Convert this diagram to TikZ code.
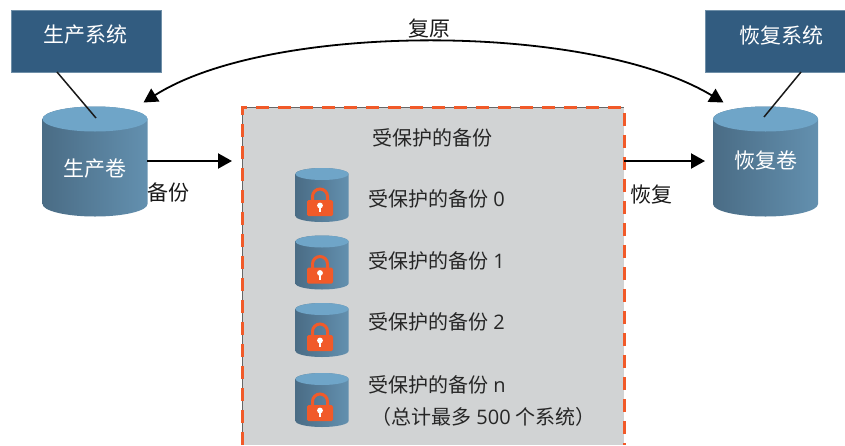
\documentclass[tikz,border=0pt]{standalone}
\usepackage{fontspec}
\setmainfont{Noto Sans CJK SC}
\newfontfamily\lat{Open Sans}
\usetikzlibrary{arrows.meta}
\definecolor{boxblue}{HTML}{325C80}
\definecolor{boxedge}{HTML}{6F8FA8}
\definecolor{cylL}{HTML}{4A6C85}
\definecolor{cylR}{HTML}{6390AF}
\definecolor{cylTop}{HTML}{6FA5C8}
\definecolor{panelgrey}{HTML}{D1D3D4}
\definecolor{lockorange}{HTML}{F15A29}
\tikzset{
  sysbox/.style={draw=boxedge,line width=0.7pt,fill=boxblue,text=white,anchor=north west,inner sep=0pt},
  whitelabel/.style={text=white,font=\fontsize{21}{25}\selectfont,inner sep=0pt},
  blacklabel/.style={text=black!90,font=\fontsize{21}{25}\selectfont,inner sep=0pt},
  panellabel/.style={text=black!85,font=\fontsize{20}{24}\selectfont,inner sep=0pt,anchor=west},
  conn/.style={line width=1.5pt,black!90},
  flow/.style={line width=2.1pt,black,-{Triangle[length=14pt,width=15pt]}},
  cylnode/.style={inner sep=0pt,minimum width=0pt},
  pics/cyl/.style args={#1/#2/#3}{code={
    \path[left color=cylL,right color=cylR,draw=none]
      (-#1,-#2+#3) -- (-#1,#2-#3) arc[start angle=180,end angle=0,x radius=#1,y radius=#3]
      -- (#1,-#2+#3) arc[start angle=0,end angle=-180,x radius=#1,y radius=#3] -- cycle;
    \path[fill=cylTop] (0,-#2+#3) ellipse[x radius=#1,y radius=#3];
  }},
  pics/lock/.style={code={
    \draw[lockorange,line width=3pt] (-7.5,4) -- (-7.5,-4.5) arc[start angle=180,end angle=360,radius=7.5] -- (7.5,4);
    \path[fill=lockorange,rounded corners=1.5pt] (-13,-1) rectangle (13,15);
    \path[fill=white] (0,4.5) circle[radius=2.9];
    \path[fill=white] (-1.1,5) rectangle (1.1,11);
  }}
}
\begin{document}
\begin{tikzpicture}[x=1pt,y=-1pt]
\useasboundingbox (0,0) rectangle (845,445);
% panel
\path[fill=panelgrey] (242,107) rectangle (624,445);
\draw[gray!80!black,line width=0.8pt] (242,445) -- (242,107) -- (624,107);
\draw[lockorange,line width=3pt,dash pattern=on 13pt off 9pt] (242,445) -- (242,107) -- (624,107) -- (624,445);
\coordinate (panelL) at (232,161);
\coordinate (panelR) at (624,161);
\coordinate (recL) at (705,161);
\coordinate (prodR) at (147,161);
% boxes
\node[sysbox,minimum width=150pt,minimum height=62pt] (prodsys) at (11,10) {};
\node[whitelabel] (prodsystxt) at (85.5,35) {生产系统};
\node[sysbox,minimum width=141pt,minimum height=62pt] (recsys) at (705,10) {};
\node[whitelabel] (recsystxt) at (781,35) {恢复系统};
% big cylinders
\pic at (95,161.5) {cyl={52.5/55/12.5}};
\pic at (765.5,161.5) {cyl={52.5/55/12.5}};
\node[cylnode] (prodvol) at (95,161.5) {};
\node[cylnode] (recvol) at (765.5,161.5) {};
\coordinate (prodtop) at (96,118);
\coordinate (rectop) at (764,117);
\coordinate (prodin) at (143.5,102.5);
\coordinate (recin) at (723.5,102.5);
\coordinate (prodsysfoot) at (57,72);
\coordinate (recsysfoot) at (801,72);
\draw[conn] (prodsysfoot) -- (prodtop);
\draw[conn] (recsysfoot) -- (rectop);
\node[whitelabel] (prodvoltxt) at (95,169) {生产卷};
\node[whitelabel] (recvoltxt) at (765.5,161) {恢复卷};
% flows
\draw[flow] (prodR) -- (panelL);
\draw[flow] (panelR) -- (recL);
\draw[line width=1.8pt,black,{Triangle[length=14pt,width=15pt]}-{Triangle[length=14pt,width=15pt]}]
  (prodin) .. controls (270,22) and (590,22) .. (recin);
\node[blacklabel] (lbackup) at (168,192) {备份};
\node[blacklabel] (lrecover) at (651,195) {恢复};
\node[blacklabel] (lrestore) at (429,29) {复原};
% panel content
\node[text=black!85,font=\fontsize{20}{24}\selectfont,inner sep=0pt] (ptitle) at (432,138) {受保护的备份};
\foreach \n/\cy/\lab/\ly in {0/195/0/199, 1/262.5/1/261, 2/330/2/322, 3/400/n/385}{
  \pic at (322,\cy) {cyl={26.5/27/6}};
  \pic at (320,\cy+6) {lock};
  \node[panellabel] (item\n) at (368,\ly) {受保护的备份{\lat\ \lab}};
}
\node[panellabel] (note) at (371,417) {（总计最多{\lat\ 500 }个系统）};
\end{tikzpicture}
\end{document}
